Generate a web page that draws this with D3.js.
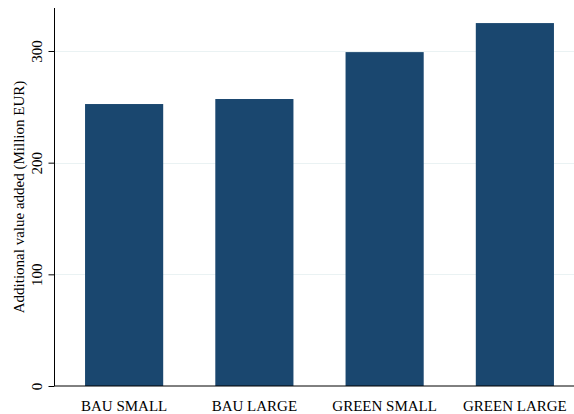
<!DOCTYPE html>
<html>
<head>
<meta charset="utf-8">
<script src="https://cdn.jsdelivr.net/npm/d3@7"></script>
<style>
  html, body { margin: 0; padding: 0; background: #fff; }
  svg { display: block; }
  text { font-family: "Liberation Serif", "Times New Roman", serif; fill: #000; }
</style>
</head>
<body>
<svg id="chart" width="574" height="414"></svg>
<script>
const categories = ["BAU SMALL", "BAU LARGE", "GREEN SMALL", "GREEN LARGE"];
const values = [252.5, 257, 299, 325];
const yTicks = [0, 100, 200, 300];
const yTitle = "Additional value added (Million EUR)";

const W = 574, H = 414;
const axisX = 54.5, baseY = 386, topY = 8;
const svg = d3.select("#chart");

const y = d3.scaleLinear().domain([0, 338.5]).range([baseY, topY]);
const x = d3.scaleBand().domain(categories).range([59, 580]).paddingInner(0.4).paddingOuter(0.2);

// gridlines
svg.append("g").selectAll("line").data(yTicks.filter(d => d > 0)).join("line")
  .attr("x1", axisX).attr("x2", W)
  .attr("y1", d => Math.round(y(d)) + 0.5).attr("y2", d => Math.round(y(d)) + 0.5)
  .attr("stroke", "#eaf2f3").attr("stroke-width", 1.2);

// bars
svg.append("g").selectAll("rect").data(values).join("rect")
  .attr("x", (d, i) => x(categories[i]))
  .attr("width", x.bandwidth())
  .attr("y", d => y(d))
  .attr("height", d => baseY - y(d))
  .attr("fill", "#1a476f");

// y axis
const yAxis = svg.append("g").attr("transform", `translate(${axisX},0)`)
  .call(d3.axisLeft(y).tickValues(yTicks).tickSize(6).tickPadding(6).tickSizeOuter(0));
yAxis.select(".domain").attr("stroke", "#000");
yAxis.selectAll(".tick line").attr("stroke", "#000");
yAxis.selectAll(".tick text")
  .attr("transform", "rotate(-90)")
  .attr("x", 0).attr("y", -13)
  .attr("dy", 0)
  .attr("text-anchor", "middle")
  .style("font-size", "15px")
  .style("font-family", "'Liberation Serif', serif");
yAxis.select(".domain").attr("d", `M0,${topY}V${baseY}`);

// x axis
const xAxis = svg.append("g").attr("transform", `translate(0,${baseY})`)
  .call(d3.axisBottom(x).tickSize(0).tickPadding(0));
xAxis.select(".domain").attr("d", `M${axisX},0H${W}`).attr("stroke", "#000");
xAxis.selectAll(".tick text")
  .attr("y", 25).attr("dy", 0)
  .style("font-size", "15px")
  .style("font-family", "'Liberation Serif', serif");

// y title
svg.append("text")
  .attr("transform", `translate(24,197) rotate(-90)`)
  .attr("text-anchor", "middle")
  .style("font-size", "15px")
  .text(yTitle);
</script>
</body>
</html>
